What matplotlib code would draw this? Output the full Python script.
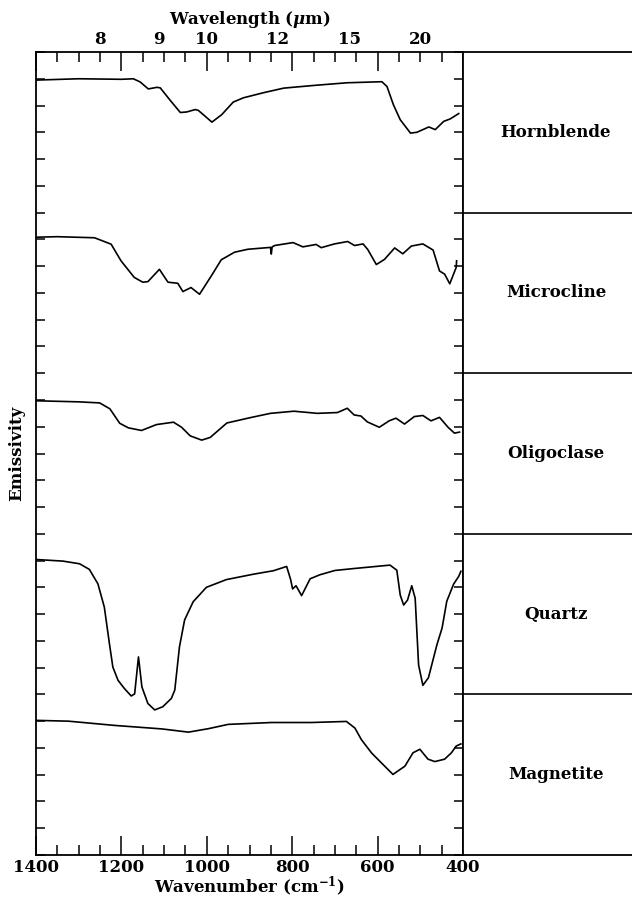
"""Thermal emission spectra of rock-forming minerals, stacked panels."""
import matplotlib
matplotlib.use("Agg")
import matplotlib.pyplot as plt
from matplotlib.ticker import MultipleLocator

plt.rcParams["font.family"] = ["DejaVu Serif"]
plt.rcParams["font.weight"] = "bold"
plt.rcParams["axes.labelweight"] = "bold"
plt.rcParams["mathtext.fontset"] = "dejavuserif"

# ── spectra (wavenumber cm^-1, emissivity in tick units above panel floor) ──
hornblende_wn = [1400, 1300, 1200, 1172, 1156, 1137, 1117, 1109, 1086, 1062, 1047,
                 1027, 1020, 988, 965, 938, 914, 867, 820, 750, 672, 590, 578, 563,
                 547, 523, 508, 480, 465, 445, 430, 410]
hornblende_em = [4.95, 5.0, 4.98, 5.0, 4.88, 4.62, 4.68, 4.66, 4.2, 3.74, 3.76,
                 3.85, 3.82, 3.38, 3.66, 4.13, 4.29, 4.48, 4.65, 4.75, 4.85, 4.89, 4.71, 4.03,
                 3.47, 2.97, 3.0, 3.2, 3.1, 3.41, 3.5, 3.7]

microcline_wn = [1400, 1350, 1263, 1224, 1201, 1170, 1150, 1138, 1111, 1091, 1068,
                 1056, 1037, 1017, 990, 966, 935, 904, 851, 849, 847, 841, 798, 775,
                 744, 732, 701, 670, 654, 634, 623, 603, 584, 560, 541, 521, 494, 470,
                 455, 443, 431, 416, 415]
microcline_em = [5.08, 5.1, 5.06, 4.82, 4.2, 3.58, 3.4, 3.42, 3.88, 3.4, 3.36,
                 3.05, 3.2, 2.95, 3.62, 4.24, 4.52, 4.63, 4.70, 4.45, 4.72, 4.77, 4.88, 4.72,
                 4.81, 4.69, 4.83, 4.92, 4.77, 4.83, 4.62, 4.06, 4.25, 4.68, 4.46, 4.75, 4.83, 4.6,
                 3.82, 3.7, 3.34, 3.95, 4.2]

oligoclase_wn = [1400, 1300, 1251, 1227, 1204, 1184, 1153, 1118, 1078, 1059, 1039,
                 1012, 992, 953, 898, 851, 796, 741, 694, 671, 655, 639, 624, 596, 573,
                 557, 537, 514, 494, 475, 455, 435, 420, 408]
oligoclase_em = [4.97, 4.93, 4.89, 4.67, 4.13, 3.96, 3.86, 4.08, 4.17, 3.98, 3.66,
                 3.5, 3.6, 4.14, 4.34, 4.5, 4.58, 4.5, 4.53, 4.69, 4.44, 4.4, 4.18, 3.98, 4.22,
                 4.32, 4.1, 4.38, 4.42, 4.22, 4.35, 3.98, 3.76, 3.8]

quartz_wn = [1400, 1337, 1298, 1275, 1255, 1240, 1228, 1220, 1208, 1193, 1177, 1169,
             1160, 1152, 1138, 1122, 1103, 1083, 1075, 1064, 1052, 1032, 1001, 954, 891,
             844, 813, 804, 799, 791, 778, 758, 735, 700, 657, 571, 555, 547, 539, 530,
             520, 512, 504, 494, 481, 461, 449, 438, 422, 410, 405]
quartz_em = [5.04, 4.98, 4.88, 4.67, 4.13, 3.26, 1.89, 1.02, 0.53, 0.22, -0.06, 0.02,
             1.4, 0.28, -0.34, -0.58, -0.46, -0.15, 0.16, 1.78, 2.78, 3.46, 4.0, 4.29, 4.49,
             4.62, 4.78, 4.31, 3.94, 4.06, 3.69, 4.32, 4.47, 4.63, 4.7, 4.83, 4.64, 3.71, 3.34, 3.52,
             4.06, 3.59, 1.1, 0.34, 0.62, 1.86, 2.48, 3.48, 4.12, 4.41, 4.6]

magnetite_wn = [1400, 1324, 1215, 1105, 1043, 996, 950, 848, 755, 673, 653, 638, 614,
                591, 564, 536, 517, 501, 482, 466, 443, 427, 416, 405]
magnetite_em = [5.03, 5.0, 4.84, 4.71, 4.59, 4.72, 4.88, 4.95, 4.95, 4.99, 4.74, 4.31, 3.81,
                3.44, 3.01, 3.32, 3.82, 3.95, 3.58, 3.49, 3.58, 3.82, 4.07, 4.15]

minerals = ["Hornblende", "Microcline", "Oligoclase", "Quartz", "Magnetite"]
spectra = [
    (hornblende_wn, hornblende_em),
    (microcline_wn, microcline_em),
    (oligoclase_wn, oligoclase_em),
    (quartz_wn, quartz_em),
    (magnetite_wn, magnetite_em),
]
wavelength_um = [8, 9, 10, 12, 15, 20]

PANEL = 6  # tick units per mineral strip
N = len(minerals)

fig = plt.figure(figsize=(6.32, 8.99), dpi=100)
left, right = 36 / 632, 463 / 632
bottom, top = 1 - 855 / 899, 1 - 52 / 899
ax = fig.add_axes([left, bottom, right - left, top - bottom])

for i, (wn, em) in enumerate(spectra):
    base = (N - 1 - i) * PANEL
    ax.plot(wn, [e + base for e in em], color="black", lw=1.2)

ax.set_xlim(1400, 400)
ax.set_ylim(0, N * PANEL)

# wavelength scale along the top (twiny resets the host's top ticks, so do it first)
ax2 = ax.twiny()
ax2.set_xlim(ax.get_xlim())
ax2.set_xticks([10000 / w for w in wavelength_um])
ax2.set_xticklabels([str(w) for w in wavelength_um])
ax2.tick_params(axis="x", length=0, labelsize=12, pad=3)
ax2.set_xlabel("Wavelength ($\\mu$m)", fontsize=12, labelpad=5)
for s in ax2.spines.values():
    s.set_visible(False)

ax.set_xticks([1400, 1200, 1000, 800, 600, 400])
ax.set_xticklabels(["1400", "1200", "1000", "800", "600", "400"])
ax.xaxis.set_minor_locator(MultipleLocator(50))
ax.yaxis.set_major_locator(MultipleLocator(1))
ax.tick_params(axis="x", which="major", direction="in", length=14, width=1.1,
               top=True, bottom=True, labeltop=False, labelsize=12, pad=3)
ax.tick_params(axis="x", which="minor", direction="in", length=7.5, width=1.1,
               top=True, bottom=True)
ax.tick_params(axis="y", direction="in", length=6.5, width=1.1, right=True,
               labelleft=False)
for s in ax.spines.values():
    s.set_linewidth(1.3)
ax.set_xlabel("Wavenumber (cm$^{-1}$)", fontsize=12, labelpad=-1)
ax.set_ylabel("Emissivity", fontsize=12, labelpad=8)

# name column on the right
lab = fig.add_axes([right, bottom, 1 - right, top - bottom])
lab.set_xlim(0, 1)
lab.set_ylim(0, N * PANEL)
lab.set_xticks([])
lab.set_yticks([])
lab.spines["right"].set_visible(False)
for s in ("top", "bottom", "left"):
    lab.spines[s].set_linewidth(1.3)
for k in range(1, N):
    lab.axhline(k * PANEL, color="black", lw=1.2)
for i, name in enumerate(minerals):
    yc = (N - 1 - i) * PANEL + PANEL / 2
    lab.text(0.55, yc, name, ha="center", va="center", fontsize=12)

fig.savefig("out.png", dpi=100)
